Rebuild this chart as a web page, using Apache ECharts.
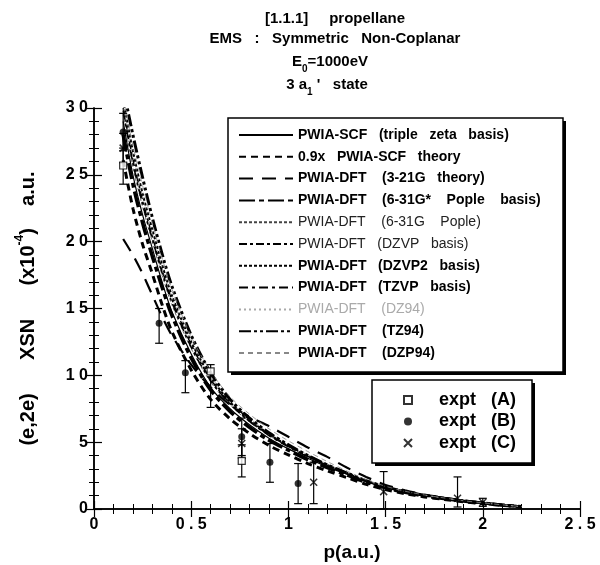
<!DOCTYPE html>
<html>
<head>
<meta charset="utf-8">
<script src="https://cdn.jsdelivr.net/npm/echarts@6/dist/echarts.min.js"></script>
<style>
html,body{margin:0;padding:0;background:#fff}
#main{width:600px;height:565px}
</style>
</head>
<body>
<div id="main"></div>
<script>
// momentum grid for theory curves (a.u.)
var P = [0.15,0.2,0.25,0.3,0.35,0.4,0.5,0.6,0.7,0.8,0.9,1.0,1.1,1.2,1.3,1.4,1.5,1.6,1.7,1.8,1.9,2.0,2.1,2.2];

// theory curves, XSN x10^-4 a.u.
var scf   = [29.0,25.0,22.0,19.5,17.0,14.8,11.6,9.1,7.5,6.3,5.3,4.5,3.8,3.15,2.6,2.05,1.6,1.28,1.0,0.8,0.6,0.45,0.3,0.17];
var scf09 = [26.1,22.5,19.8,17.6,15.3,13.3,10.4,8.2,6.75,5.65,4.75,4.05,3.4,2.85,2.35,1.85,1.45,1.15,0.9,0.72,0.54,0.4,0.27,0.15];
var g321  = [20.2,19.0,17.6,16.0,14.4,13.0,10.8,9.1,7.8,6.9,6.2,5.4,4.6,3.9,3.1,2.4,1.8,1.4,1.08,0.85,0.63,0.47,0.31,0.18];
var g631s = [28.0,24.3,21.4,18.9,16.6,14.5,11.3,8.9,7.3,6.1,5.15,4.4,3.7,3.1,2.55,2.0,1.58,1.25,0.98,0.78,0.59,0.44,0.29,0.17];
var g631  = [29.5,25.6,22.6,20.0,17.5,15.3,12.0,9.5,7.8,6.5,5.5,4.65,3.9,3.25,2.65,2.1,1.65,1.3,1.02,0.8,0.6,0.45,0.3,0.17];
var dzvp  = [30.0,26.2,23.1,20.4,17.9,15.7,12.3,9.7,7.9,6.6,5.55,4.7,3.95,3.3,2.7,2.12,1.66,1.31,1.03,0.81,0.61,0.45,0.3,0.17];
var dzvp2 = [30.6,26.8,23.6,20.9,18.3,16.0,12.5,9.9,8.0,6.7,5.6,4.75,4.0,3.3,2.7,2.12,1.66,1.31,1.03,0.81,0.61,0.45,0.3,0.17];
var tzvp  = [29.8,25.9,22.8,20.2,17.7,15.5,12.1,9.6,7.85,6.55,5.5,4.65,3.9,3.25,2.65,2.1,1.65,1.3,1.02,0.8,0.6,0.45,0.3,0.17];
var dz94  = [30.3,26.5,23.4,20.7,18.1,15.9,12.5,9.9,8.1,6.8,5.7,4.85,4.05,3.35,2.75,2.15,1.68,1.32,1.04,0.82,0.62,0.46,0.31,0.18];
var tz94  = [31.5,28.0,24.8,21.8,19.1,16.7,13.0,10.2,8.2,6.8,5.7,4.8,4.0,3.3,2.7,2.12,1.66,1.31,1.03,0.81,0.61,0.45,0.3,0.17];
var dzp94 = [30.8,27.2,24.2,21.4,18.8,16.5,12.9,10.3,8.4,7.1,6.0,5.1,4.3,3.55,2.85,2.2,1.7,1.33,1.05,0.83,0.62,0.46,0.31,0.18];

// experiment A (open squares)
var pA  = [0.15,0.6,0.76];
var yA  = [25.7,10.3,3.6];
var loA = [24.3,7.6,2.4];
var hiA = [27.0,10.8,4.8];
// experiment B (filled circles)
var pB  = [0.15,0.335,0.47,0.76,0.905,1.05];
var yB  = [28.2,13.9,10.2,5.4,3.5,1.9];
var loB = [26.8,12.4,8.7,4.0,2.0,0.4];
var hiB = [29.6,15.0,11.1,6.8,4.9,3.4];
// experiment C (crosses)
var pC  = [0.15,0.76,1.13,1.49,1.87,2.0];
var yC  = [27.0,4.9,2.0,1.3,0.8,0.5];
var loC = [25.9,3.8,0.4,0.0,0.15,0.2];
var hiC = [28.1,6.0,3.5,2.8,2.4,0.8];

var xTicks = {min:0, max:2.5, interval:0.5};
var yTicks = {min:0, max:30, interval:5};

var FF = '"Liberation Sans", Arial, sans-serif';

function spaced(v){ return String(v).split('').join(' '); }

function curve(name, vals, width, dash, color){
  return {
    name: name, type: 'line', smooth: 0.3, symbol: 'none', showSymbol: false,
    data: P.map(function(p, i){ return [p, vals[i]]; }),
    itemStyle: {color: color || '#000'},
    lineStyle: {color: color || '#000', width: width, type: dash},
    emphasis: {disabled: true}, z: 2
  };
}

function errorBars(ps, lo, hi){
  return {
    type: 'custom', silent: true, z: 3,
    data: ps.map(function(p, i){ return [p, lo[i], hi[i]]; }),
    renderItem: function(params, api){
      var a = api.coord([api.value(0), api.value(1)]);
      var b = api.coord([api.value(0), api.value(2)]);
      var w = 4, st = {stroke: '#000', lineWidth: 1.2};
      return {type: 'group', children: [
        {type: 'line', shape: {x1: a[0], y1: a[1], x2: b[0], y2: b[1]}, style: st},
        {type: 'line', shape: {x1: a[0]-w, y1: a[1], x2: a[0]+w, y2: a[1]}, style: st},
        {type: 'line', shape: {x1: b[0]-w, y1: b[1], x2: b[0]+w, y2: b[1]}, style: st}
      ]};
    }
  };
}

function points(name, ps, ys, symbol, size, style){
  return {
    name: name, type: 'scatter', symbol: symbol, symbolSize: size, z: 4,
    data: ps.map(function(p, i){ return [p, ys[i]]; }),
    itemStyle: style, emphasis: {disabled: true}
  };
}

var names = [
  'PWIA-SCF   (triple   zeta   basis)',
  '0.9x   PWIA-SCF   theory',
  'PWIA-DFT    (3-21G   theory)',
  'PWIA-DFT    (6-31G*    Pople    basis)',
  'PWIA-DFT    (6-31G    Pople)',
  'PWIA-DFT   (DZVP   basis)',
  'PWIA-DFT   (DZVP2   basis)',
  'PWIA-DFT   (TZVP   basis)',
  'PWIA-DFT    (DZ94)',
  'PWIA-DFT    (TZ94)',
  'PWIA-DFT    (DZP94)'
];
var exptNames = ['expt   (A)', 'expt   (B)', 'expt   (C)'];

var series = [
  curve(names[0], scf, 1.2, 'solid'),
  curve(names[1], scf09, 3, [7,5]),
  curve(names[2], g321, 2.2, [14,9]),
  curve(names[3], g631s, 3.5, [16,4,5,4]),
  curve(names[4], g631, 0.8, [3,2], '#444'),
  curve(names[5], dzvp, 1.5, [8,3,3,3]),
  curve(names[6], dzvp2, 2, [3,2]),
  curve(names[7], tzvp, 1.6, [9,4,3,4]),
  curve(names[8], dz94, 1, [2,3], '#aaa'),
  curve(names[9], tz94, 3, [12,3,3,3,3,3]),
  curve(names[10], dzp94, 0.8, [5,4], '#888'),
  errorBars(pA, loA, hiA),
  errorBars(pB, loB, hiB),
  errorBars(pC, loC, hiC),
  points(exptNames[0], pA, yA, 'rect', 7, {color: '#fff', borderColor: '#000', borderWidth: 1.2}),
  points(exptNames[1], pB, yB, 'circle', 7, {color: '#000'}),
  points(exptNames[2], pC, yC, 'path://M0,0L10,10M10,0L0,10', 7, {color: '#000', borderColor: '#000', borderWidth: 1.5})
];

var tickStyle = {
  axisLine: {lineStyle: {color: '#000', width: 1.5}},
  axisTick: {inside: true, length: 8, lineStyle: {color: '#000', width: 1.2}},
  minorTick: {show: true, splitNumber: 5, length: 5, lineStyle: {color: '#000', width: 1}},
  splitLine: {show: false}
};

function axis(base, extra){
  var o = {type: 'value'};
  [tickStyle, base, extra].forEach(function(s){ for (var k in s) o[k] = s[k]; });
  return o;
}

var labelStyle = {color: '#000', fontFamily: FF, fontWeight: 'bold', fontSize: 16, formatter: spaced};

var legendRow = function(n, i){
  if (i === 4 || i === 5) return {name: n, textStyle: {fontWeight: 'normal', color: '#222'}};
  if (i === 8) return {name: n, textStyle: {fontWeight: 'normal', color: '#aaa'}};
  return {name: n};
};

var option = {
  animation: false,
  backgroundColor: '#fff',
  grid: {left: 94, right: 20, top: 108, bottom: 56, outerBoundsMode: 'none'},
  xAxis: [
    axis(xTicks, {position: 'bottom', axisLabel: Object.assign({margin: 8}, labelStyle),
      name: 'p(a.u.)', nameLocation: 'middle', nameGap: 34,
      nameTextStyle: {color: '#000', fontFamily: FF, fontWeight: 'bold', fontSize: 19, padding: [0, 0, 0, 30]}}),
    axis(xTicks, {position: 'top', axisLabel: {show: false}})
  ],
  yAxis: [
    axis(yTicks, {position: 'left', axisLabel: Object.assign({margin: 6}, labelStyle),
      name: '{n|(e,2e)      XSN      (x10}{s|-4}{n|)    a.u.}', nameLocation: 'middle', nameRotate: 90, nameGap: 56,
      nameTextStyle: {rich: {
        n: {color: '#000', fontFamily: FF, fontWeight: 'bold', fontSize: 20, lineHeight: 24, verticalAlign: 'bottom'},
        s: {color: '#000', fontFamily: FF, fontWeight: 'bold', fontSize: 12, lineHeight: 12, verticalAlign: 'top'}
      }}}),
    axis(yTicks, {position: 'right', axisLabel: {show: false}})
  ],
  legend: [
    {
      orient: 'vertical', left: 238, top: 128, padding: 0, itemWidth: 54, itemHeight: 10, itemGap: 7.8,
      selectedMode: false, z: 6, itemStyle: {opacity: 0},
      textStyle: {color: '#000', fontFamily: FF, fontWeight: 'bold', fontSize: 14, lineHeight: 14},
      data: names.map(legendRow)
    },
    {
      orient: 'vertical', left: 403, top: 391, padding: 0, itemWidth: 8, itemHeight: 8, itemGap: 3.5,
      selectedMode: false, z: 6,
      textStyle: {color: '#000', fontFamily: FF, fontWeight: 'bold', fontSize: 18, lineHeight: 18, padding: [0, 0, 0, 22]},
      data: exptNames
    }
  ],
  graphic: [
    {type: 'rect', z: 3, shape: {x: 231, y: 121, width: 335, height: 254}, style: {fill: '#000'}},
    {type: 'rect', z: 3, shape: {x: 228, y: 118, width: 335, height: 254}, style: {fill: '#fff', stroke: '#000', lineWidth: 1.5}},
    {type: 'rect', z: 3, shape: {x: 375, y: 383, width: 160, height: 83}, style: {fill: '#000'}},
    {type: 'rect', z: 3, shape: {x: 372, y: 380, width: 160, height: 83}, style: {fill: '#fff', stroke: '#000', lineWidth: 1.5}},
    {type: 'text', x: 335, y: 19, style: {text: '[1.1.1]     propellane', fill: '#000', font: 'bold 15px ' + FF, align: 'center', verticalAlign: 'middle'}},
    {type: 'text', x: 335, y: 39, style: {text: 'EMS   :   Symmetric   Non-Coplanar', fill: '#000', font: 'bold 15px ' + FF, align: 'center', verticalAlign: 'middle'}},
    {type: 'text', x: 330, y: 62, style: {text: '{n|E}{s|0}{n|=1000eV}', align: 'center', verticalAlign: 'middle', rich: {
      n: {fill: '#000', fontFamily: FF, fontWeight: 'bold', fontSize: 15, lineHeight: 16, verticalAlign: 'top'},
      s: {fill: '#000', fontFamily: FF, fontWeight: 'bold', fontSize: 10, lineHeight: 10, padding: [10, 0, 0, 0], verticalAlign: 'top'}
    }}},
    {type: 'text', x: 327, y: 85, style: {text: '{n|3 a}{s|1}{n| \'   state}', align: 'center', verticalAlign: 'middle', rich: {
      n: {fill: '#000', fontFamily: FF, fontWeight: 'bold', fontSize: 15, lineHeight: 16, verticalAlign: 'top'},
      s: {fill: '#000', fontFamily: FF, fontWeight: 'bold', fontSize: 10, lineHeight: 10, padding: [10, 0, 0, 0], verticalAlign: 'top'}
    }}}
  ],
  series: series
};

var chart = echarts.init(document.getElementById('main'));
chart.setOption(option);
</script>
</body>
</html>
